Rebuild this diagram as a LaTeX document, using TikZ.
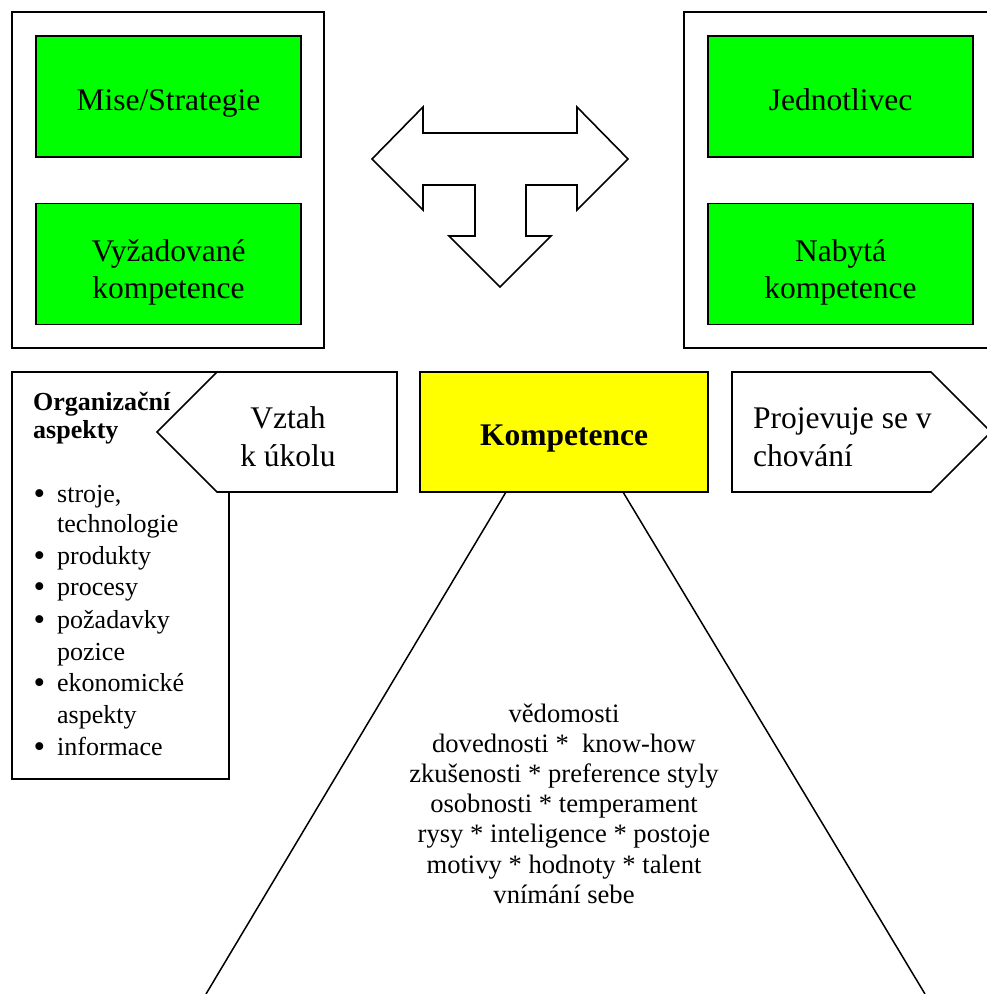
\documentclass[tikz,border=0pt]{standalone}
\usepackage{fontspec}
\setmainfont{Liberation Serif}
\definecolor{boxgreen}{RGB}{0,255,0}
\definecolor{boxyellow}{RGB}{255,255,0}
\newcommand{\mybul}{\llap{\raisebox{-2pt}{\fontsize{33}{30}\selectfont\textbullet}\hspace{12pt}}}
\tikzset{
  outline/.style={draw=black, line width=1.6pt, line join=miter},
  greenbox/.style={outline, fill=boxgreen, minimum width=265pt, minimum height=121pt, inner sep=0pt},
  framebox/.style={outline, fill=none, minimum width=312pt, minimum height=336pt, inner sep=0pt},
  bigtxt/.style={font=\fontsize{31.5}{37}\selectfont, inner sep=0pt},
  bigbold/.style={font=\fontsize{31.5}{37}\selectfont\bfseries, inner sep=0pt},
  midtxt/.style={font=\fontsize{26}{30}\selectfont, inner sep=0pt},
  pyrtxt/.style={font=\fontsize{26.6}{30}\selectfont, inner sep=0pt},
  midbold/.style={font=\fontsize{26}{30}\selectfont\bfseries, inner sep=0pt},
}
\begin{document}
\begin{tikzpicture}[x=1pt, y=-1pt]
\useasboundingbox (0,0) rectangle (987,994);

% top-left frame
\node[framebox] (lframe) at (168,180) {};
\node[greenbox] (mise) at (168.5,96.5) {};
\node[greenbox] (vyz) at (168.5,264) {};
\node[bigtxt, anchor=base] (misetxt) at (168.5,110) {Mise/Strategie};
\node[bigtxt, anchor=base] (vyztxta) at (168.5,261) {Vyžadované};
\node[bigtxt, anchor=base] (vyztxtb) at (168.5,298) {kompetence};

% top-right frame
\node[framebox] (rframe) at (840,180) {};
\node[greenbox] (jed) at (840.5,96.5) {};
\node[greenbox] (nab) at (840.5,264) {};
\node[bigtxt, anchor=base] (jedtxt) at (840.5,110) {Jednotlivec};
\node[bigtxt, anchor=base] (nabtxta) at (840.5,261) {Nabytá};
\node[bigtxt, anchor=base] (nabtxtb) at (840.5,298) {kompetence};

% T-shaped arrow
\draw[outline, fill=white] (372,159) -- (423,107) -- (423,133) -- (577,133) -- (577,107)
  -- (628,159) -- (577,210) -- (577,185) -- (526,185) -- (526,236) -- (551,236)
  -- (500,287) -- (449,236) -- (475,236) -- (475,185) -- (423,185) -- (423,210) -- cycle;

% organisational aspects box
\draw[outline, fill=white] (12,372) rectangle (229,779);
\node[midbold, anchor=base west] (orga) at (33,410) {Organizační};
\node[midbold, anchor=base west] (orgb) at (33,438) {aspekty};
\node[midtxt, anchor=base west] (l1) at (57,502) {\mybul stroje,};
\node[midtxt, anchor=base west] (l2) at (57,532) {technologie};
\node[midtxt, anchor=base west] (l3) at (57,564) {\mybul produkty};
\node[midtxt, anchor=base west] (l4) at (57,595) {\mybul procesy};
\node[midtxt, anchor=base west] (l5) at (57,628) {\mybul požadavky};
\node[midtxt, anchor=base west] (l6) at (57,660) {pozice};
\node[midtxt, anchor=base west] (l7) at (57,691) {\mybul ekonomické};
\node[midtxt, anchor=base west] (l8) at (57,723) {aspekty};
\node[midtxt, anchor=base west] (l9) at (57,755) {\mybul informace};

% Vztah k ukolu pentagon
\draw[outline, fill=white] (157,432) -- (217,372) -- (397,372) -- (397,492) -- (217,492) -- cycle;
\node[bigtxt, anchor=base] (vztaha) at (288,428) {Vztah};
\node[bigtxt, anchor=base] (vztahb) at (288,466) {k úkolu};

% Kompetence
\node[outline, fill=boxyellow, minimum width=288pt, minimum height=120pt, inner sep=0pt] (komp) at (564,432) {};
\node[bigbold, anchor=base] (komptxt) at (564,445) {Kompetence};

% Projevuje se v chovani pentagon
\draw[outline, fill=white] (732,372) -- (931,372) -- (991,432) -- (931,492) -- (732,492) -- cycle;
\node[bigtxt, anchor=base west] (proja) at (753,428) {Projevuje se v};
\node[bigtxt, anchor=base west] (projb) at (753,466) {chování};

% pyramid sides
\coordinate (pl0) at (506,492);
\coordinate (pr0) at (623,492);
\coordinate (pl1) at (206,994);
\coordinate (pr1) at (925,994);
\draw[outline, line width=1.5pt] (pl0) -- (pl1);
\draw[outline, line width=1.5pt] (pr0) -- (pr1);

% pyramid text
\node[pyrtxt, anchor=base] (p1) at (564,722) {vědomosti};
\node[pyrtxt, anchor=base] (p2) at (564,752.2) {dovednosti *\ \ know-how};
\node[pyrtxt, anchor=base] (p3) at (564,782.4) {zkušenosti * preference styly};
\node[pyrtxt, anchor=base] (p4) at (564,812.6) {osobnosti * temperament};
\node[pyrtxt, anchor=base] (p5) at (564,842.8) {rysy * inteligence * postoje};
\node[pyrtxt, anchor=base] (p6) at (564,873) {motivy * hodnoty * talent};
\node[pyrtxt, anchor=base] (p7) at (564,903.2) {vnímání sebe};
\end{tikzpicture}
\end{document}
